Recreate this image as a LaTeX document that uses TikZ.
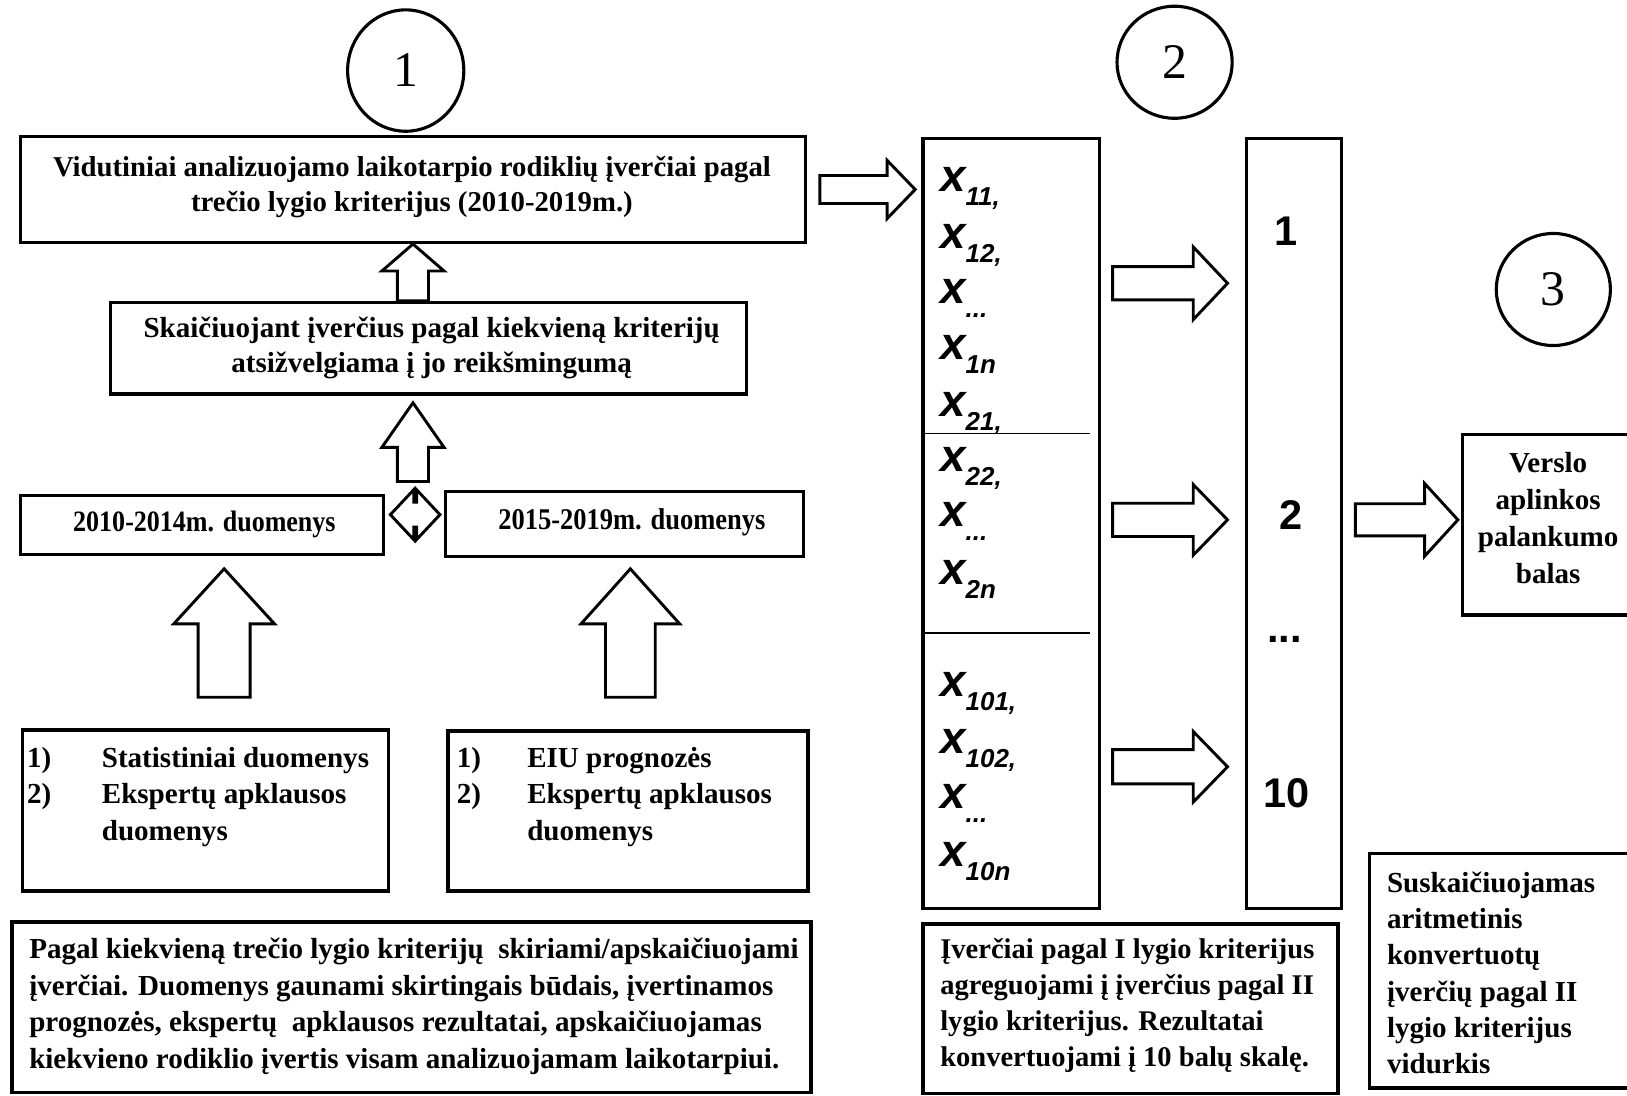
\documentclass[tikz,border=0pt]{standalone}
\usepackage{fontspec}
\setmainfont{Liberation Serif}
\newfontfamily\condserif[FakeStretch=0.88]{Liberation Serif}
\newfontfamily\sansfam{Liberation Sans}
\usetikzlibrary{calc,shapes.geometric}
\tikzset{
  box/.style={draw, line width=3.2pt, inner sep=0pt, anchor=north west},
  txt/.style={inner sep=0pt},
  barrow/.style={draw, line width=2.8pt, fill=white, line join=miter},
  circ/.style={draw, ellipse, line width=3pt, inner sep=0pt, font=\mdseries\fontsize{48}{48}\selectfont},
  divline/.style={line width=1.4pt},
  numtxt/.style={inner sep=0pt, font=\sansfam\bfseries\fontsize{40}{40}\selectfont},
  xtxt/.style={inner sep=0pt, anchor=base west},
}
% block arrow: start, tip, shaft half width, head half width, head length
\newcommand{\blockarr}[5]{%
  \coordinate (bas) at (#1);
  \coordinate (bat) at (#2);
  \coordinate (bah) at ($(bat)!#5!(bas)$);
  \draw[barrow] ($(bas)!#3!90:(bat)$) -- ($(bah)!#3!90:(bat)$) -- ($(bah)!#4!90:(bat)$) -- (bat)
     -- ($(bah)!#4!-90:(bat)$) -- ($(bah)!#3!-90:(bat)$) -- ($(bas)!#3!-90:(bat)$) -- cycle;}
% horizontal double arrow: left tip, right tip, head length, head half, shaft half
\newcommand{\dblarr}[5]{%
  \coordinate (dal) at (#1);
  \coordinate (dar) at (#2);
  \draw[barrow] (dal) -- ($(dal)+(#3,-#4)$) -- ($(dal)+(#3,-#5)$) -- ($(dar)+(-#3,-#5)$)
     -- ($(dar)+(-#3,-#4)$) -- (dar) -- ($(dar)+(-#3,#4)$) -- ($(dar)+(-#3,#5)$)
     -- ($(dal)+(#3,#5)$) -- ($(dal)+(#3,#4)$) -- cycle;}
\newcommand{\xent}[1]{{\sansfam\bfseries\itshape\fontsize{44}{44}\selectfont x}{\sansfam\bfseries\itshape\fontsize{25}{25}\selectfont\raisebox{-13.5pt}{#1}}}
\newcommand{\lbl}[1]{\makebox[72pt][l]{#1}}
\newcommand{\lblb}[1]{\makebox[68pt][l]{#1}}
\begin{document}
\begin{tikzpicture}[x=1pt,y=-1pt]
\useasboundingbox (0,0) rectangle (1568,1056);
\clip (0,0) rectangle (1568,1056);
\fill[white] (0,0) rectangle (1568,1056);

% circled numbers
\node[circ, minimum width=112pt, minimum height=117pt] (c1) at (391,68) {1};
\node[circ, minimum width=111pt, minimum height=108pt] (c2) at (1132,60) {2};
\node[circ, minimum width=110pt, minimum height=108pt] (c3) at (1497,279) {3};

% left column boxes
\node[box, minimum width=757pt, minimum height=102pt] (boxA) at (18,130) {};
\node[box, minimum width=613pt, minimum height=88pt] (boxB) at (105,290) {};
\node[box, minimum width=350pt, minimum height=57pt] (boxC) at (18,476) {};
\node[box, minimum width=345pt, minimum height=63pt] (boxD) at (428,472) {};
\node[box, minimum width=353pt, minimum height=155pt] (boxE) at (20,702) {};
\node[box, minimum width=347pt, minimum height=154pt] (boxF) at (430,703) {};
\node[box, minimum width=770pt, minimum height=164pt] (boxG) at (10,887) {};

% middle / right boxes
\node[box, minimum width=170pt, minimum height=742pt] (xbox) at (888,132) {};
\node[box, minimum width=91pt, minimum height=742pt] (numbox) at (1200,132) {};
\node[box, minimum width=400pt, minimum height=163pt] (midbox) at (888,889) {};
\node[box, minimum width=172pt, minimum height=174pt] (versl) at (1408,417) {};
\node[box, minimum width=290pt, minimum height=226pt] (susk) at (1318,821) {};

% texts
\node[txt, align=center, font=\bfseries\fontsize{27.7}{34}\selectfont] (tA) at (397,180)
  {Vidutiniai analizuojamo laikotarpio rodiklių įverčiai pagal\\trečio lygio kriterijus (2010-2019m.)};
\node[txt, align=center, font=\bfseries\fontsize{28}{34}\selectfont] (tB) at (416,335)
  {Skaičiuojant įverčius pagal kiekvieną kriterijų\\atsižvelgiama į jo reikšmingumą};
\node[txt, font=\condserif\bfseries\fontsize{28.5}{30}\selectfont] (tC) at (197,505) {2010-2014m. duomenys};
\node[txt, font=\condserif\bfseries\fontsize{29}{30}\selectfont] (tD) at (609,503) {2015-2019m. duomenys};
\node[txt, anchor=west, align=left, font=\bfseries\fontsize{28}{35}\selectfont] (tE) at (26,768)
  {\lbl{1)}Statistiniai duomenys\\\lbl{2)}Ekspertų apklausos\\\hspace*{72pt}duomenys};
\node[txt, anchor=west, align=left, font=\bfseries\fontsize{28}{35}\selectfont] (tF) at (440,768)
  {\lblb{1)}EIU prognozės\\\lblb{2)}Ekspertų apklausos\\\hspace*{68pt}duomenys};
\node[txt, anchor=west, align=left, font=\bfseries\fontsize{28}{35.3}\selectfont] (tG) at (28,970)
  {Pagal kiekvieną trečio lygio kriterijų\ \ skiriami/apskaičiuojami\\
   įverčiai. Duomenys gaunami skirtingais būdais, įvertinamos\\
   prognozės, ekspertų\ \ apklausos rezultatai, apskaičiuojamas\\
   kiekvieno rodiklio įvertis visam analizuojamam laikotarpiui.};
\node[txt, anchor=west, align=left, font=\bfseries\fontsize{27.5}{34.8}\selectfont] (tM) at (906,969)
  {Įverčiai pagal I lygio kriterijus\\agreguojami į įverčius pagal II\\lygio kriterijus. Rezultatai\\konvertuojami į 10 balų skalę.};
\node[txt, align=center, font=\bfseries\fontsize{28}{35.7}\selectfont] (tV) at (1492,499.5)
  {Verslo\\aplinkos\\palankumo\\balas};
\node[txt, anchor=west, align=left, font=\bfseries\fontsize{28}{35}\selectfont] (tS) at (1336.5,937.5)
  {Suskaičiuojamas\\aritmetinis\\konvertuotų\\įverčių pagal II\\lygio kriterijus\\vidurkis};

% x entries
\node[xtxt] (x1) at (906,185) {\xent{11,}};
\node[xtxt] (x2) at (906,239.5) {\xent{12,}};
\node[xtxt] (x3) at (906,292.5) {\xent{...}};
\node[xtxt] (x4) at (906,346.5) {\xent{1n}};
\node[xtxt] (x5) at (906,401.5) {\xent{21,}};
\node[xtxt] (x6) at (906,454.5) {\xent{22,}};
\node[xtxt] (x7) at (906,507.5) {\xent{...}};
\node[xtxt] (x8) at (906,563.5) {\xent{2n}};
\node[xtxt] (x9) at (906,671.5) {\xent{101,}};
\node[xtxt] (x10) at (906,726.5) {\xent{102,}};
\node[xtxt] (x11) at (906,779.5) {\xent{...}};
\node[xtxt] (x12) at (906,835.5) {\xent{10n}};

% dividers in x box
\coordinate (d1) at (1050,418);
\coordinate (d2) at (1050,610);
\draw[divline] (xbox.west |- d1) -- (d1);
\draw[divline] (xbox.west |- d2) -- (d2);

% numbers column
\node[numtxt] (n1) at (1239,223) {1};
\node[numtxt] (n2) at (1244,496) {2};
\node[numtxt, anchor=base] (n3) at (1238,619) {...};
\node[numtxt] (n10) at (1240,764) {10};

% helper coordinates
\coordinate (ax) at (398,0);
\coordinate (lx) at (216,0);
\coordinate (rx) at (607.5,0);
\coordinate (r1) at (0,273);
\coordinate (r2) at (0,501);
\coordinate (r3) at (0,739);
\coordinate (dy) at (0,496);

% arrows left column
\blockarr{boxB.north -| ax}{boxA.south -| ax}{15pt}{30pt}{26pt}
\blockarr{$(boxD.north -| ax)+(0,-8)$}{$(boxB.south -| ax)+(0,7)$}{15pt}{30pt}{43pt}
\blockarr{$(boxE.north -| lx)+(0,-30)$}{$(boxC.south -| lx)+(0,12)$}{25pt}{48.5pt}{53pt}
\blockarr{$(boxF.north -| rx)+(0,-31)$}{$(boxD.south -| rx)+(0,10)$}{24pt}{47.5pt}{53pt}
\dblarr{$(boxC.east |- dy)+(5,0)$}{$(boxD.west |- dy)+(-4,0)$}{22.5}{24}{12}

% arrows to the right
\blockarr{$(boxA.east)+(12,0)$}{$(xbox.west |- boxA.east)+(-6,0)$}{13.5pt}{28pt}{27pt}
\blockarr{$(xbox.east |- r1)+(11,0)$}{$(numbox.west |- r1)+(-17,0)$}{16pt}{35pt}{33pt}
\blockarr{$(xbox.east |- r2)+(11,0)$}{$(numbox.west |- r2)+(-17,0)$}{16pt}{34pt}{33pt}
\blockarr{$(xbox.east |- r3)+(11,0)$}{$(numbox.west |- r3)+(-17,0)$}{16.5pt}{34pt}{33pt}
\blockarr{$(numbox.east |- r2)+(12,0)$}{$(versl.west |- r2)+(-3,0)$}{15.5pt}{35pt}{32pt}
\end{tikzpicture}
\end{document}
